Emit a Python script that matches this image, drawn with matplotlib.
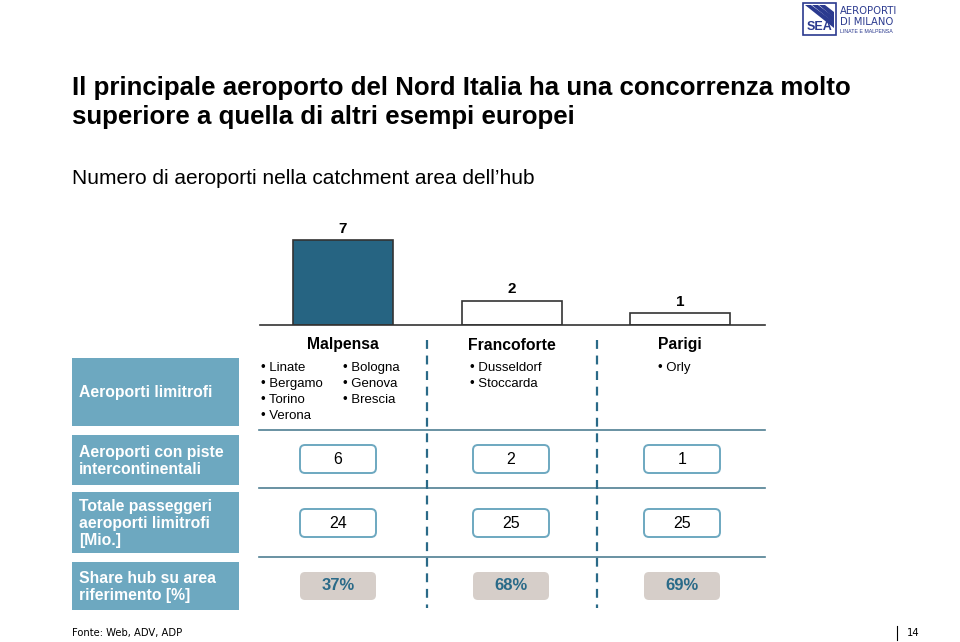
import matplotlib
matplotlib.use("Agg")
import matplotlib.pyplot as plt
from matplotlib.patches import FancyBboxPatch, Rectangle, Polygon

plt.rcParams['font.family'] = ['Liberation Sans', 'DejaVu Sans']

# ---- data ----
hubs = ["Malpensa", "Francoforte", "Parigi"]
n_airports = [7, 2, 1]
nearby = [["Linate", "Bergamo", "Torino", "Verona", "Bologna", "Genova", "Brescia"],
          ["Dusseldorf", "Stoccarda"],
          ["Orly"]]
intercont = ["6", "2", "1"]
passengers = ["24", "25", "25"]
share = ["37%", "68%", "69%"]
row_labels = ["Aeroporti limitrofi",
              "Aeroporti con piste\nintercontinentali",
              "Totale passeggeri\naeroporti limitrofi\n[Mio.]",
              "Share hub su area\nriferimento [%]"]
title = "Il principale aeroporto del Nord Italia ha una concorrenza molto\nsuperiore a quella di altri esempi europei"
subtitle = "Numero di aeroporti nella catchment area dell’hub"
source = "Fonte: Web, ADV, ADP"
page = "14"

W, H = 960, 642
fig = plt.figure(figsize=(W / 100, H / 100), dpi=100)
fig.patch.set_facecolor("white")

ov = fig.add_axes([0, 0, 1, 1])
ov.set_xlim(0, W)
ov.set_ylim(H, 0)
ov.axis("off")

BOX = "#6da8c0"
DARK = "#2a6a88"
LINE = "#4f7f92"
BAR = "#266482"
COND = dict(family="DejaVu Sans", stretch="condensed")

# ---- bars ----
px_unit = 168.5
x0 = 343
left_px, right_px = 260, 765
base_px, top_px = 325, 220
ax = fig.add_axes([left_px / W, (H - base_px) / H, (right_px - left_px) / W, (base_px - top_px) / H])
ax.set_xlim((left_px - x0) / px_unit, (right_px - x0) / px_unit)
ax.set_ylim(0, (base_px - top_px) / 12.14)
xs = list(range(len(hubs)))
colors = [BAR, "white", "white"]
ax.bar(xs, n_airports, width=100 / px_unit, color=colors, edgecolor="#333333", linewidth=1.2)
for x, v in zip(xs, n_airports):
    ax.text(x, v + 0.35, str(v), ha="center", va="bottom", fontsize=11, fontweight="bold")
for s in ["top", "right", "left"]:
    ax.spines[s].set_visible(False)
ax.spines["bottom"].set_linewidth(1.2)
ax.spines["bottom"].set_color("#333333")
ax.set_xticks([])
ax.set_yticks([])
ax.patch.set_alpha(0)

centers = [343, 512, 680]
box_centers = [338, 511, 682]

# ---- titles ----
ov.text(72, 88, title.split("\n")[0], fontsize=18.6, fontweight="bold", ha="left", va="center")
ov.text(72, 117, title.split("\n")[1], fontsize=18.6, fontweight="bold", ha="left", va="center")
ov.text(72, 179, subtitle, fontsize=15, ha="left", va="center")

for c, name in zip(centers, hubs):
    ov.text(c, 345, name, fontsize=11.3, fontweight="bold", ha="center", va="center")

# ---- left row boxes ----
rows = [(358, 426), (435, 485), (492, 553), (562, 610)]
for (y1, y2), lab in zip(rows, row_labels):
    ov.add_patch(Rectangle((72, y1), 167, y2 - y1, facecolor=BOX, edgecolor="none"))
    ov.text(79, (y1 + y2) / 2 + 1, lab, fontsize=11.3, fontweight="bold", color="white",
            ha="left", va="center", linespacing=1.2)

for y in [430, 488, 557]:
    ov.plot([259, 765], [y, y], color=LINE, lw=1.2)

for x in [427, 597]:
    ov.plot([x, x], [340, 608], color=DARK, lw=1.6, ls=(0, (4, 3)))

# bullets
bx = [[261, 343], [470], [658]]
for i, lst in enumerate(nearby):
    cols = [lst[:4], lst[4:]] if i == 0 else [lst]
    for cx, col in zip(bx[i], cols):
        for j, item in enumerate(col):
            ov.text(cx, 368 + 16 * j, "• " + item, fontsize=9.5, ha="left", va="center")

# value boxes
bw, bh = 76, 28
for c, a, b, s in zip(box_centers, intercont, passengers, share):
    for yc, val in [(459, a), (523, b)]:
        ov.add_patch(FancyBboxPatch((c - bw / 2, yc - bh / 2), bw, bh,
                                    boxstyle="round,pad=0,rounding_size=5",
                                    facecolor="white", edgecolor=BOX, lw=1.4))
        ov.text(c, yc, val, fontsize=11.5, ha="center", va="center")
    ov.add_patch(FancyBboxPatch((c - bw / 2, 586 - bh / 2), bw, bh,
                                boxstyle="round,pad=0,rounding_size=5",
                                facecolor="#d6cec9", edgecolor="none"))
    ov.text(c, 586, s, fontsize=12, fontweight="bold", color=DARK, ha="center", va="center")

# footer
ov.text(72, 633, source, fontsize=8, ha="left", va="center", **COND)
ov.plot([897, 897], [626, 640], color="black", lw=0.8)
ov.text(907, 633, page, fontsize=8, ha="left", va="center", **COND)

# logo
LOGO = "#2b3a8f"
ov.add_patch(Rectangle((803, 3), 33, 32, facecolor="white", edgecolor=LOGO, lw=1.2))
for k in range(3):
    ov.add_patch(Polygon([(805 + 7 * k, 5), (811 + 7 * k, 5), (834, 22 - 5 * k), (834, 28 - 5 * k)],
                         closed=True, facecolor=LOGO, edgecolor="none"))
ov.text(819.5, 27, "SEA", fontsize=9, fontweight="bold", color=LOGO, ha="center", va="center")
ov.text(840, 10.5, "AEROPORTI", fontsize=8, color=LOGO, ha="left", va="center", **COND)
ov.text(840, 22, "DI MILANO", fontsize=8, color=LOGO, ha="left", va="center", **COND)
ov.text(840, 31.5, "LINATE E MALPENSA", fontsize=3.8, color=LOGO, ha="left", va="center")

fig.savefig("out.png", dpi=100)
